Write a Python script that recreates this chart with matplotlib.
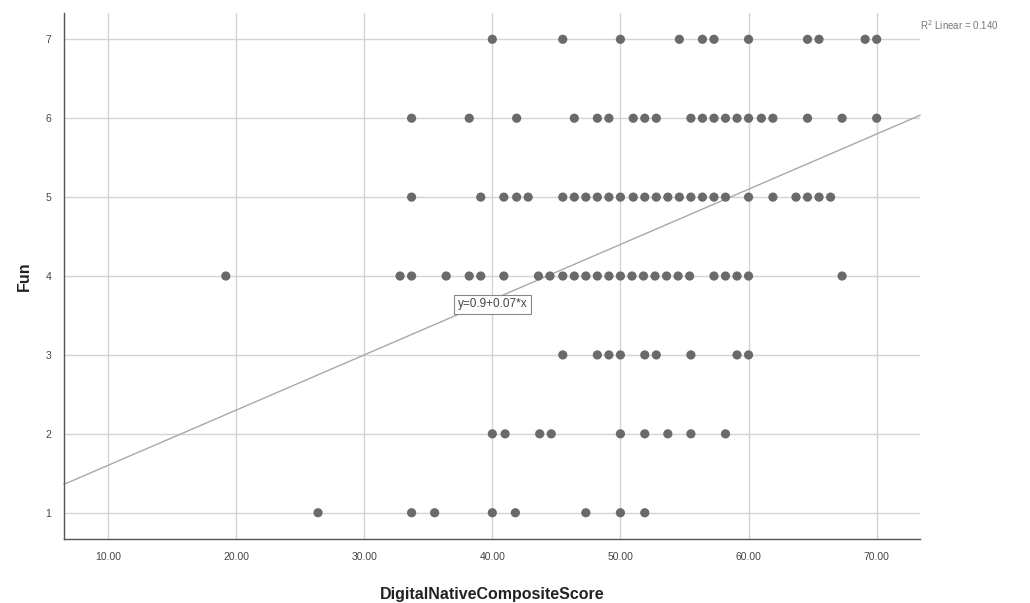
import matplotlib
matplotlib.use("Agg")
import matplotlib.pyplot as plt
import numpy as np

plt.rcParams['font.family'] = ['Liberation Sans', 'DejaVu Sans']

# DigitalNativeCompositeScore values observed at each Fun level
fun_levels = [7, 6, 5, 4, 3, 2, 1]
scores_by_level = {
    7: [40.0, 45.5, 50.0, 54.6, 56.4, 57.3, 60.0, 64.6, 65.5, 69.1, 70.0],
    6: [33.7, 38.2, 41.9, 46.4, 48.2, 49.1, 51.0, 51.9, 52.8, 55.5, 56.4,
        57.3, 58.2, 59.1, 60.0, 61.0, 61.9, 64.6, 67.3, 70.0],
    5: [33.7, 39.1, 40.9, 41.9, 42.8, 45.5, 46.4, 47.3, 48.2, 49.1, 50.0,
        51.0, 51.9, 52.8, 53.7, 54.6, 55.5, 56.4, 57.3, 58.2, 60.0, 61.9,
        63.7, 64.6, 65.5, 66.4],
    4: [19.2, 32.8, 33.7, 36.4, 38.2, 39.1, 40.9, 43.6, 44.5, 45.5, 46.4,
        47.3, 48.2, 49.1, 50.0, 50.9, 51.8, 52.7, 53.6, 54.5, 55.4, 57.3,
        58.2, 59.1, 60.0, 67.3],
    3: [45.5, 48.2, 49.1, 50.0, 51.9, 52.8, 55.5, 59.1, 60.0],
    2: [40.0, 41.0, 43.7, 44.6, 50.0, 51.9, 53.7, 55.5, 58.2],
    1: [26.4, 33.7, 35.5, 40.0, 41.8, 47.3, 50.0, 51.9],
}

# fitted line and fit statistic
intercept = 0.9
slope = 0.07
r_squared = 0.140

x_ticks = [10, 20, 30, 40, 50, 60, 70]
y_ticks = [1, 2, 3, 4, 5, 6, 7]
x_range = (6.57, 73.38)
y_range = (0.667, 7.333)

fig = plt.figure(figsize=(10.3, 6.03), dpi=100)
ax = fig.add_axes([0.0621, 0.1061, 0.8311, 0.8723])

xs = np.concatenate([scores_by_level[k] for k in fun_levels])
ys = np.concatenate([[k] * len(scores_by_level[k]) for k in fun_levels])

ax.scatter(xs, ys, s=44, color='#6a6a6a', edgecolors='none', zorder=3)

line_x = np.array(x_range)
ax.plot(line_x, intercept + slope * line_x, color='#a8a8a8', lw=1.0, zorder=2,
        clip_on=False)

ax.set_xlim(*x_range)
ax.set_ylim(*y_range)
ax.set_xticks(x_ticks)
ax.set_xticklabels([f"{v:.2f}" for v in x_ticks])
ax.set_yticks(y_ticks)
ax.tick_params(length=0, labelsize=7.5, labelcolor='#444444', pad=9)

ax.grid(True, color='#d4d4d4', lw=1.0, zorder=0)
ax.set_axisbelow(True)
for side in ('top', 'right'):
    ax.spines[side].set_visible(False)
for side in ('left', 'bottom'):
    ax.spines[side].set_color('#555555')
    ax.spines[side].set_linewidth(1.0)

ax.set_xlabel('DigitalNativeCompositeScore', fontsize=11.5, fontweight='bold',
              color='#222222', labelpad=18)
ax.set_ylabel('Fun', fontsize=11.5, fontweight='bold', color='#222222',
              labelpad=10)

ax.text(40.0, 3.64, f"y={intercept:g}+{slope:g}*x", fontsize=8.5, color='#444444',
        ha='center', va='center', zorder=4,
        bbox=dict(boxstyle='square,pad=0.3', fc='white', ec='#888888', lw=0.8))

fig.text(0.8935, 0.958, f"R$^2$ Linear = {r_squared:.3f}", fontsize=7,
         color='#777777', ha='left', va='center')

fig.savefig('out.png', dpi=100)
